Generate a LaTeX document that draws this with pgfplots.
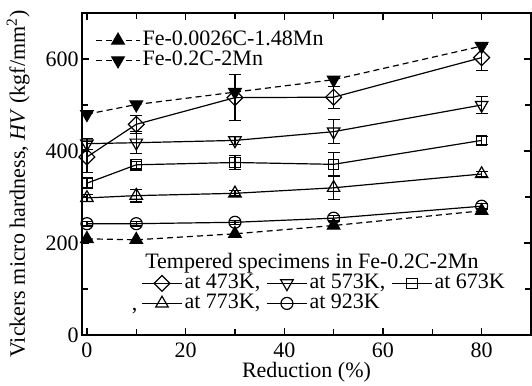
\documentclass[11pt,border=0pt]{standalone}
\usepackage{fontspec}
\setmainfont{Liberation Serif}
\usepackage{pgfplots}
\pgfplotsset{compat=1.18}
\pgfplotsset{
  myimg/.style={legend image code/.code={\draw[mark repeat=2,mark phase=2,##1] plot coordinates {(0pt,0pt)(10pt,0pt)(20pt,0pt)};}},
  longimg/.style={legend image code/.code={\draw[mark repeat=2,mark phase=2,##1] plot coordinates {(0pt,0pt)(11pt,0pt)(22pt,0pt)};}},
  commaimg/.style={legend image code/.code={\node[overlay,inner sep=0pt,anchor=base east] at (-2pt,-3.6pt) {,};\draw[mark repeat=2,mark phase=2,##1] plot coordinates {(0pt,0pt)(10pt,0pt)(20pt,0pt)};}},
  openser/.style={black, line width=0.6pt, solid, mark options={solid, fill=white, line width=0.6pt}},
  diam/.style={mark=square, mark size=2.8pt, mark options={solid, fill=white, line width=0.6pt, rotate=45}},
  filledser/.style={black, line width=0.6pt, dash pattern=on 3pt off 2pt, mark options={solid, fill=black, line width=0.6pt}},
  eb/.style={error bars/.cd, y dir=both, y explicit, error bar style={line width=0.6pt, black, solid}, error mark options={rotate=90, mark size=3pt, line width=0.6pt, black, solid}},
  frame/.style={at={(0,0)}, anchor=south west, scale only axis, width=224.5pt, height=161pt,
    xmin=-1, xmax=90, ymin=0, ymax=700},
}
\begin{document}
\begin{tikzpicture}[font=\fontsize{11}{13}\selectfont]
\begin{axis}[frame,
  xtick={0,20,40,60,80}, minor xtick={10,30,50,70},
  ytick={0,200,400,600}, minor ytick={100,300,500},
  tick align=inside, xtick pos=both, ytick pos=both,
  major tick length=3.5pt, minor tick length=3pt,
  every tick/.style={black, line width=0.6pt},
  axis line style={line width=0.7pt},
  /pgf/number format/assume math mode=true,
  ticklabel style={font=\fontsize{11}{13}\selectfont},
  yticklabel style={inner sep=1.5pt},
  xlabel={Reduction (\%)},
  ylabel={Vickers micro hardness, \textit{HV} (kgf/mm\textsuperscript{2})},
  xlabel style={at={(axis description cs:0.5,-0.115)}, anchor=center, inner sep=0pt},
  ylabel style={at={(axis description cs:-0.142,0.469)}, anchor=center, inner sep=0pt},
  legend style={at={(axis description cs:0.029,0.947)}, anchor=north west, draw=none, fill=none, inner sep=0pt, nodes={inner sep=1pt, text height=6.5pt, text depth=1.5pt}},
  legend cell align=left,
]
% 923K circle
\addplot[forget plot, openser, mark=o, mark size=3pt, eb] table[x=x,y=y,y error=e] {
x y e
0 242 5
10 242 5
30 245 4
50 254 6
80 280 6
};
% 773K up triangle
\addplot[forget plot, openser, mark=triangle, mark size=3.6pt, eb] table[x=x,y=y,y error=e] {
x y e
0 298 8
10 303 14
30 308 6
50 320 25
80 350 6
};
% 673K square
\addplot[forget plot, openser, mark=square, mark size=2.6pt, eb] table[x=x,y=y,y error=e] {
x y e
0 330 10
10 370 8
30 375 15
50 371 25
80 423 8
};
% 573K down triangle
\addplot[forget plot, openser, mark=triangle, mark size=3.6pt, mark options={solid, fill=white, line width=0.6pt, rotate=180}, eb] table[x=x,y=y,y error=e] {
x y e
0 416 12
10 418 24
30 423 8
50 442 26
80 500 18
};
% 473K diamond
\addplot[forget plot, openser, diam, eb] table[x=x,y=y,y error=e] {
x y e
0 387 33
10 458 20
30 516 50
50 517 24
80 603 28
};
% Fe-0.0026C-1.48Mn
\addplot[filledser, mark=triangle*, mark size=3.6pt, longimg] table[x=x,y=y] {
x y
0 209
10 207
30 220
50 238
80 270
};
\addlegendentry{Fe-0.0026C-1.48Mn}
% Fe-0.2C-2Mn
\addplot[filledser, mark=triangle*, mark size=3.6pt, mark options={solid, fill=black, rotate=180}, longimg] table[x=x,y=y] {
x y
0 480
10 501
30 528
50 555
80 628
};
\addlegendentry{Fe-0.2C-2Mn}
\node[anchor=west, inner sep=0pt] at (axis description cs:0.140,0.2236) {Tempered specimens in Fe-0.2C-2Mn};
\end{axis}
\begin{axis}[frame, hide axis,
  legend columns=3,
  legend style={at={(axis description cs:0.1314,0.1925)}, anchor=north west, draw=none, fill=none, inner sep=0pt, nodes={inner sep=1pt, text height=6.5pt, text depth=1.5pt}, /tikz/every even column/.append style={column sep=2pt}},
  legend cell align=left,
]
\addlegendimage{openser, diam, myimg}
\addlegendentry{at 473K,}
\addlegendimage{openser, mark=triangle, mark size=3.6pt, mark options={solid, fill=white, line width=0.6pt, rotate=180}, myimg}
\addlegendentry{at 573K,}
\addlegendimage{openser, mark=square, mark size=2.6pt, myimg}
\addlegendentry{at 673K}
\addlegendimage{openser, mark=triangle, mark size=3.6pt, commaimg}
\addlegendentry{at 773K,}
\addlegendimage{openser, mark=o, mark size=3pt, myimg}
\addlegendentry{at 923K}
\end{axis}
\pgfresetboundingbox
\path[use as bounding box] (-41pt,-25.5pt) rectangle (225pt,167.5pt);
\end{tikzpicture}
\end{document}
